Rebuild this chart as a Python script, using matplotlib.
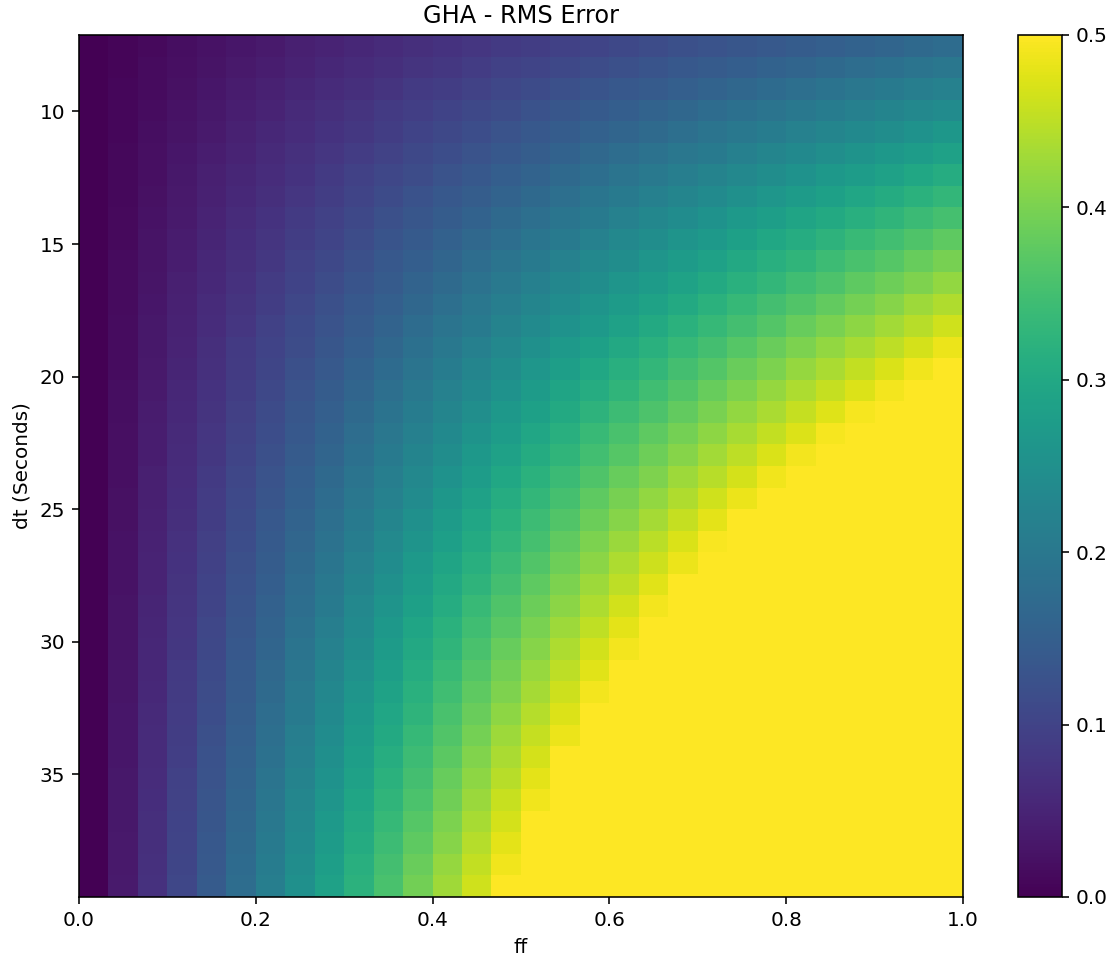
import matplotlib
matplotlib.use("Agg")
import matplotlib.pyplot as plt
import numpy as np

# RMS error, in thousandths; one row per dt step (top to bottom),
# one entry per ff step (left to right). Rows stop where the colour saturates (>= 0.5).
SAT = 500
rms_rows = [
    [0, 6, 12, 18, 24, 30, 36, 43, 49, 55, 61, 67, 73, 79, 85, 91, 97, 103, 109, 116, 122, 128, 134, 140, 146, 152, 158, 164, 170, 176],
    [0, 7, 14, 21, 27, 34, 41, 48, 55, 62, 68, 75, 82, 89, 96, 103, 109, 116, 123, 130, 137, 144, 150, 157, 164, 171, 178, 185, 192, 198],
    [0, 8, 15, 23, 30, 38, 46, 53, 61, 68, 76, 84, 91, 99, 106, 114, 122, 129, 137, 144, 152, 160, 167, 175, 182, 190, 198, 205, 213, 220],
    [0, 8, 17, 25, 33, 42, 50, 59, 67, 75, 84, 92, 100, 109, 117, 125, 134, 142, 150, 159, 167, 176, 184, 192, 201, 209, 217, 226, 234, 242],
    [0, 9, 18, 27, 36, 46, 55, 64, 73, 82, 91, 100, 109, 119, 128, 137, 146, 155, 164, 173, 182, 192, 201, 210, 219, 228, 237, 246, 255, 264],
    [0, 10, 20, 30, 40, 49, 59, 69, 79, 89, 99, 109, 119, 128, 138, 148, 158, 168, 178, 188, 198, 207, 217, 227, 237, 247, 257, 267, 277, 287],
    [0, 11, 21, 32, 43, 53, 64, 74, 85, 96, 106, 117, 128, 138, 149, 160, 170, 181, 192, 202, 213, 223, 234, 245, 255, 266, 277, 287, 298, 309],
    [0, 11, 23, 34, 46, 57, 68, 80, 91, 103, 114, 125, 137, 148, 160, 171, 182, 194, 205, 217, 228, 239, 251, 262, 274, 285, 296, 308, 319, 331],
    [0, 12, 24, 36, 49, 61, 73, 85, 97, 109, 122, 134, 146, 158, 170, 182, 195, 207, 219, 231, 243, 255, 268, 280, 292, 304, 316, 328, 340, 353],
    [0, 13, 26, 39, 52, 65, 78, 90, 103, 116, 129, 142, 155, 168, 181, 194, 207, 220, 233, 245, 258, 271, 284, 297, 310, 323, 336, 349, 362, 375],
    [0, 14, 27, 41, 55, 68, 82, 96, 109, 123, 137, 150, 164, 178, 192, 205, 219, 233, 246, 260, 274, 287, 301, 315, 328, 342, 356, 369, 383, 397],
    [0, 14, 29, 43, 58, 72, 87, 101, 116, 130, 144, 159, 173, 188, 202, 217, 231, 245, 260, 274, 289, 303, 318, 332, 347, 361, 375, 390, 404, 419],
    [0, 15, 30, 46, 61, 76, 91, 106, 122, 137, 152, 167, 182, 198, 213, 228, 243, 258, 274, 289, 304, 319, 334, 350, 365, 380, 395, 410, 426, 441],
    [0, 16, 32, 48, 64, 80, 96, 112, 128, 144, 160, 176, 192, 207, 223, 239, 255, 271, 287, 303, 319, 335, 351, 367, 383, 399, 415, 431, 447, 463],
    [0, 17, 33, 50, 67, 84, 100, 117, 134, 150, 167, 184, 201, 217, 234, 251, 268, 284, 301, 318, 334, 351, 368, 385, 401, 418, 435, 451, 468, 485],
    [0, 17, 35, 52, 70, 87, 105, 122, 140, 157, 175, 192, 210, 227, 245, 262, 280, 297, 315, 332, 350, 367, 385, 402, 420, 437, 454, 472, 489],
    [0, 18, 36, 55, 73, 91, 109, 128, 146, 164, 182, 201, 219, 237, 255, 274, 292, 310, 328, 347, 365, 383, 401, 420, 438, 456, 474, 492],
    [0, 19, 38, 57, 76, 95, 114, 133, 152, 171, 190, 209, 228, 247, 266, 285, 304, 323, 342, 361, 380, 399, 418, 437, 456, 475, 494],
    [0, 20, 40, 59, 79, 99, 119, 138, 158, 178, 198, 217, 237, 257, 277, 296, 316, 336, 356, 375, 395, 415, 435, 454, 474, 494],
    [0, 21, 41, 62, 82, 103, 123, 144, 164, 185, 205, 226, 246, 267, 287, 308, 328, 349, 369, 390, 410, 431, 451, 472, 492],
    [0, 21, 43, 64, 85, 106, 128, 149, 170, 192, 213, 234, 255, 277, 298, 319, 340, 362, 383, 404, 426, 447, 468, 489],
    [0, 22, 44, 66, 88, 110, 132, 154, 176, 198, 220, 242, 264, 287, 309, 331, 353, 375, 397, 419, 441, 463, 485],
    [0, 23, 46, 68, 91, 114, 137, 160, 182, 205, 228, 251, 274, 296, 319, 342, 365, 388, 410, 433, 456, 479],
    [0, 24, 47, 71, 94, 118, 141, 165, 188, 212, 236, 259, 283, 306, 330, 353, 377, 401, 424, 448, 471, 495],
    [0, 24, 49, 73, 97, 122, 146, 170, 195, 219, 243, 268, 292, 316, 340, 365, 389, 413, 438, 462, 486],
    [0, 25, 50, 75, 100, 125, 150, 176, 201, 226, 251, 276, 301, 326, 351, 376, 401, 426, 451, 477],
    [0, 26, 52, 78, 103, 129, 155, 181, 207, 233, 258, 284, 310, 336, 362, 388, 413, 439, 465, 491],
    [0, 27, 53, 80, 106, 133, 160, 186, 213, 239, 266, 293, 319, 346, 372, 399, 426, 452, 479],
    [0, 27, 55, 82, 109, 137, 164, 192, 219, 246, 274, 301, 328, 356, 383, 410, 438, 465, 492],
    [0, 28, 56, 84, 112, 141, 169, 197, 225, 253, 281, 309, 337, 366, 394, 422, 450, 478],
    [0, 29, 58, 87, 116, 144, 173, 202, 231, 260, 289, 318, 347, 375, 404, 433, 462, 491],
    [0, 30, 59, 89, 119, 148, 178, 207, 237, 267, 296, 326, 356, 385, 415, 445, 474],
    [0, 30, 61, 91, 122, 152, 182, 213, 243, 274, 304, 334, 365, 395, 426, 456, 486],
    [0, 31, 62, 93, 125, 156, 187, 218, 249, 280, 312, 343, 374, 405, 436, 467, 499],
    [0, 32, 64, 96, 128, 160, 192, 223, 255, 287, 319, 351, 383, 415, 447, 479],
    [0, 33, 65, 98, 131, 163, 196, 229, 261, 294, 327, 359, 392, 425, 458, 490],
    [0, 33, 67, 100, 134, 167, 201, 234, 268, 301, 334, 368, 401, 435, 468],
    [0, 34, 68, 103, 137, 171, 205, 239, 274, 308, 342, 376, 410, 445, 479],
    [0, 35, 70, 105, 140, 175, 210, 245, 280, 315, 350, 385, 420, 454, 489],
    [0, 36, 71, 107, 143, 179, 214, 250, 286, 321, 357, 393, 429, 464],
]
n_ff = 30
ff_range = (0.0, 1.0)
dt_range = (7.12, 39.62)

rms = np.array([r + [SAT] * (n_ff - len(r)) for r in rms_rows], dtype=float) / 1000.0

W, H, DPI = 1114, 962, 144
fig = plt.figure(figsize=(W / DPI, H / DPI), dpi=DPI)
ax = fig.add_axes([79 / W, 1 - 897 / H, (963 - 79) / W, (897 - 35) / H])
cax = fig.add_axes([1018 / W, 1 - 897 / H, 43.5 / W, (897 - 35) / H])

im = ax.imshow(rms, cmap="viridis", vmin=0, vmax=0.5, aspect="auto",
               extent=[ff_range[0], ff_range[1], dt_range[1], dt_range[0]])
ax.set_title("GHA - RMS Error")
ax.set_xlabel("ff")
ax.set_ylabel("dt (Seconds)")
fig.colorbar(im, cax=cax)

fig.savefig("out.png", dpi=DPI)
